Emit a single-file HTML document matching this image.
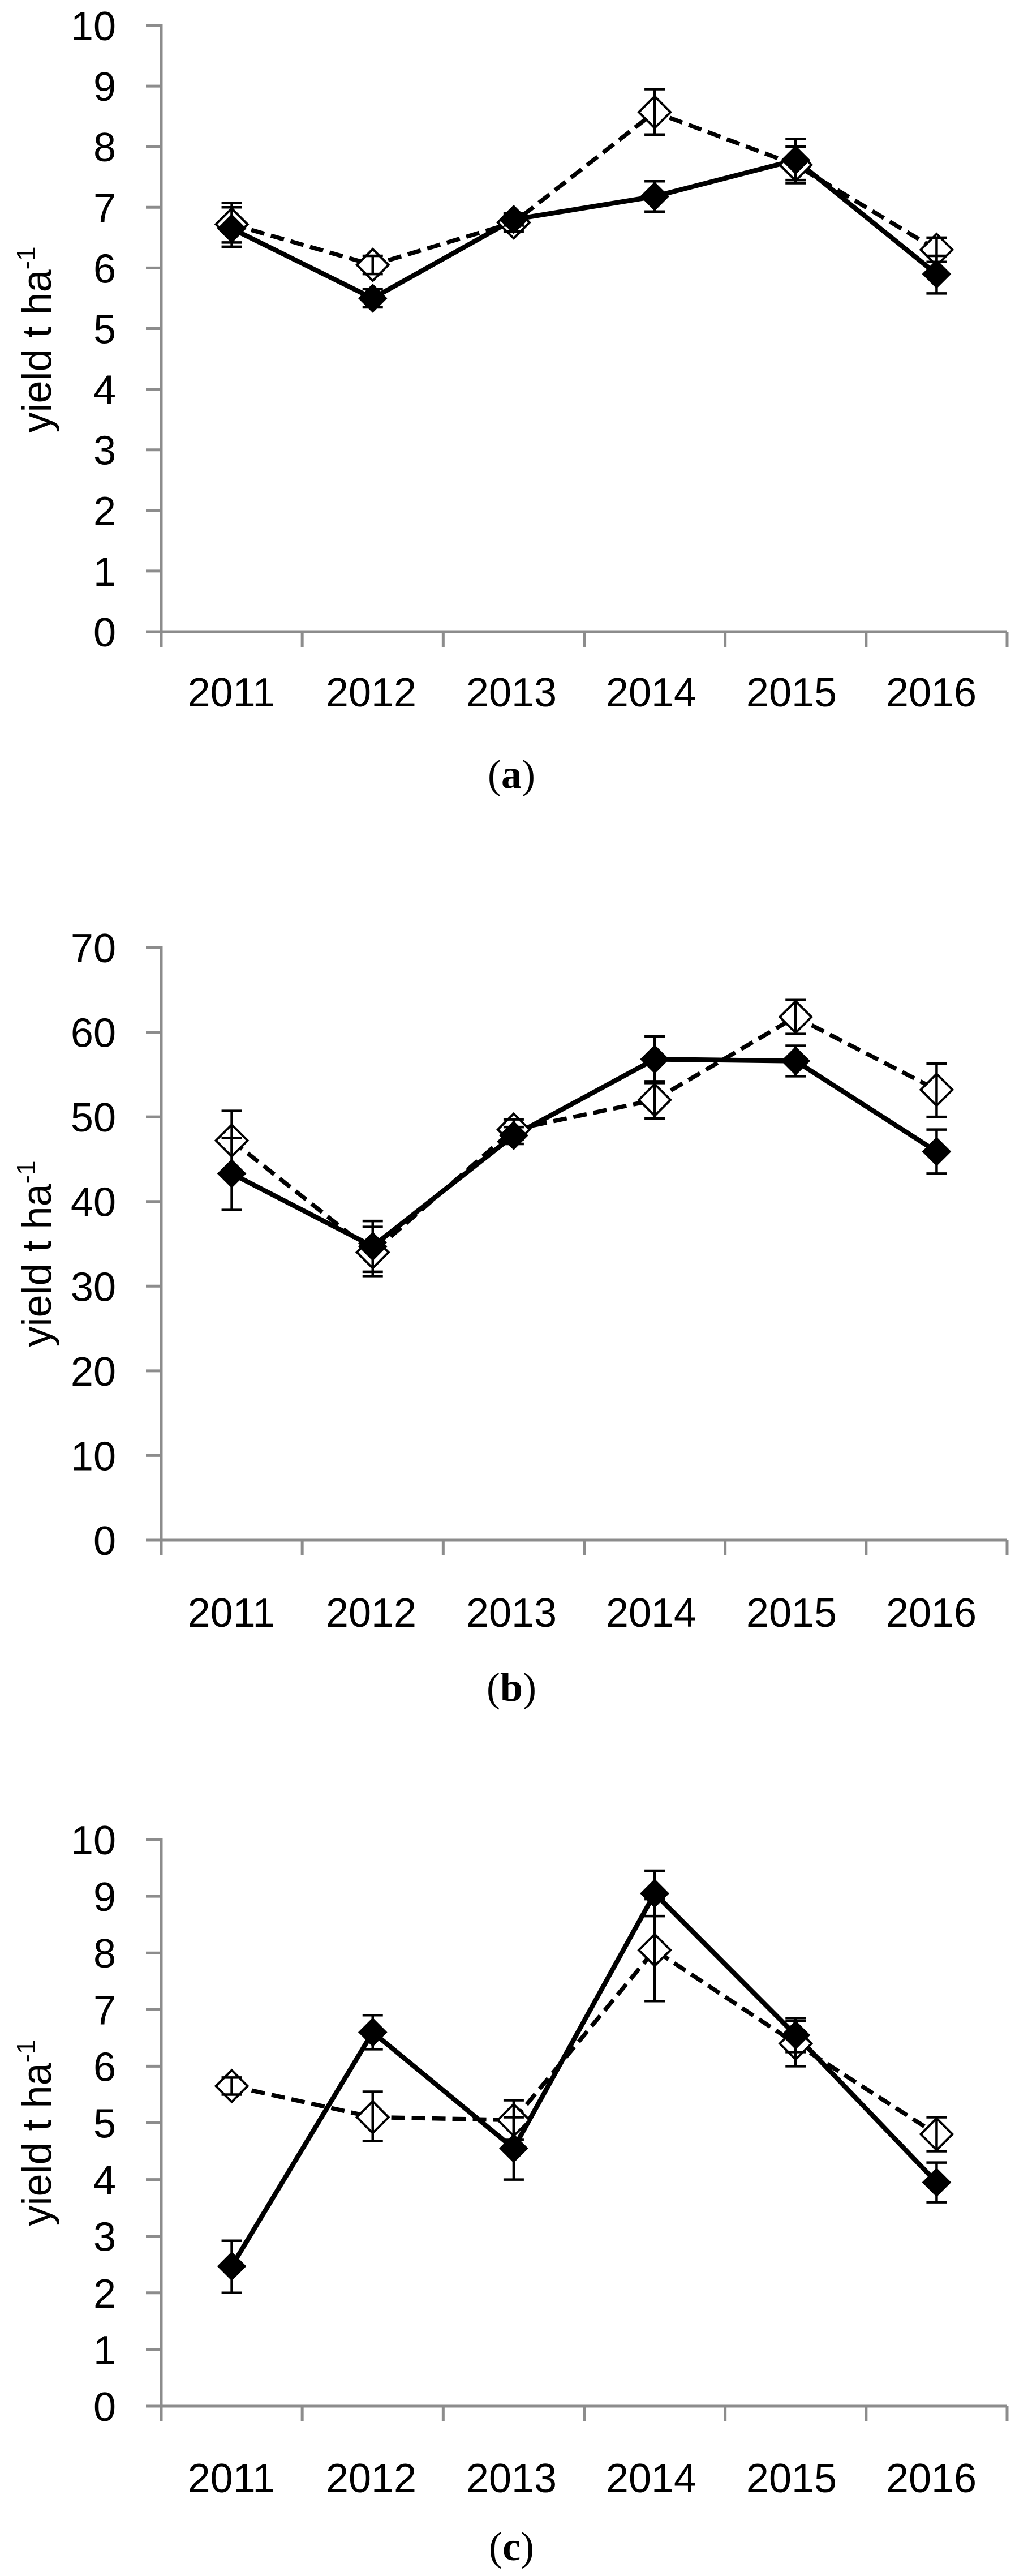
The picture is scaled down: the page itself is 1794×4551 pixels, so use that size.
<!DOCTYPE html>
<html><head><meta charset="utf-8">
<style>
html,body{margin:0;padding:0;background:#fff;}
svg{display:block;}
text{font-family:"Liberation Sans",sans-serif;fill:#000;}
</style></head>
<body>
<svg id="s" width="1794" height="4551" viewBox="0 0 1794 4551" xmlns="http://www.w3.org/2000/svg">
<g id="g"></g>
<g font-size="72" text-anchor="end" id="yl"></g>
<g font-size="72" text-anchor="middle">
<text x="409" y="1248">2011</text><text x="656" y="1248">2012</text><text x="904" y="1248">2013</text><text x="1151" y="1248">2014</text><text x="1399" y="1248">2015</text><text x="1646" y="1248">2016</text>
<text x="409" y="2874">2011</text><text x="656" y="2874">2012</text><text x="904" y="2874">2013</text><text x="1151" y="2874">2014</text><text x="1399" y="2874">2015</text><text x="1646" y="2874">2016</text>
<text x="409" y="4403">2011</text><text x="656" y="4403">2012</text><text x="904" y="4403">2013</text><text x="1151" y="4403">2014</text><text x="1399" y="4403">2015</text><text x="1646" y="4403">2016</text>
</g>
<g font-size="72">
<text transform="translate(90,600) rotate(-90)" text-anchor="middle">yield t ha<tspan font-size="46" dy="-28">-1</tspan></text>
<text transform="translate(90,2215) rotate(-90)" text-anchor="middle">yield t ha<tspan font-size="46" dy="-28">-1</tspan></text>
<text transform="translate(90,3768) rotate(-90)" text-anchor="middle">yield t ha<tspan font-size="46" dy="-28">-1</tspan></text>
</g>
<g font-size="72" text-anchor="middle">
<text x="904" y="1392" style="font-family:'Liberation Serif',serif">(<tspan font-weight="bold">a</tspan>)</text>
<text x="904" y="3005" style="font-family:'Liberation Serif',serif">(<tspan font-weight="bold">b</tspan>)</text>
<text x="904" y="4523" style="font-family:'Liberation Serif',serif">(<tspan font-weight="bold">c</tspan>)</text>
</g>
</svg>
<script>
(function(){
var NS="http://www.w3.org/2000/svg";
var g=document.getElementById('g'), yl=document.getElementById('yl');
function el(t,a,p){var e=document.createElementNS(NS,t);for(var k in a)e.setAttribute(k,a[k]);(p||g).appendChild(e);return e;}
var X0=285,X1=1780,CW=(X1-X0)/6;
function cx(i){return X0+CW*(i+0.5);}
var panels=[
 {top:45,zero:1116,max:10,step:1,
  s:[6.65,5.5,6.8,7.18,7.78,5.9],se:[[6.35,7.0],[5.35,5.65],[6.7,6.9],[6.93,7.43],[7.45,8.13],[5.58,6.2]],
  d:[6.72,6.05,6.75,8.57,7.7,6.3],de:[[6.42,7.07],[5.9,6.2],[6.6,6.9],[8.2,8.95],[7.4,8.0],[6.1,6.5]]},
 {top:1674,zero:2721,max:70,step:10,
  s:[43.3,34.7,47.8,56.8,56.6,45.9],se:[[39,47.5],[31.7,37.7],[46.8,48.8],[54,59.5],[54.8,58.4],[43.3,48.5]],
  d:[47.2,34.0,48.5,52.0,61.8,53.2],de:[[43.7,50.7],[31.2,37],[47.3,49.7],[49.8,54.2],[59.8,63.8],[50,56.3]]},
 {top:3250,zero:4251,max:10,step:1,
  s:[2.47,6.6,4.55,9.05,6.55,3.95],se:[[2.0,2.92],[6.3,6.9],[4.0,5.1],[8.65,9.45],[6.25,6.85],[3.6,4.3]],
  d:[5.65,5.1,5.05,8.05,6.4,4.8],de:[[5.5,5.8],[4.68,5.55],[4.7,5.4],[7.15,8.95],[6.0,6.8],[4.5,5.1]]}
];
panels.forEach(function(p){
 function Y(v){return p.zero-(p.zero-p.top)*v/p.max;}
 var ax="#8c8c8c";
 el('line',{x1:X0,y1:p.top-2,x2:X0,y2:p.zero+27,stroke:ax,'stroke-width':5});
 el('line',{x1:X0-27,y1:p.zero,x2:X1,y2:p.zero,stroke:ax,'stroke-width':5});
 for(var i=0;i<=6;i++){var x=X0+CW*i; el('line',{x1:x,y1:p.zero,x2:x,y2:p.zero+27,stroke:ax,'stroke-width':5});}
 for(var v=0;v<=p.max;v+=p.step){var y=Y(v);
  el('line',{x1:X0-27,y1:y,x2:X0,y2:y,stroke:ax,'stroke-width':5});
  var t=el('text',{x:205,y:y+26},yl); t.textContent=String(v);}
 function pts(a){return a.map(function(v,i){return cx(i)+','+Y(v);}).join(' ');}
 el('polyline',{points:pts(p.d),fill:'none',stroke:'#000','stroke-width':7.5,'stroke-dasharray':'24,12'});
 el('polyline',{points:pts(p.s),fill:'none',stroke:'#000','stroke-width':8.5,'stroke-linejoin':'round'});
 function eb(e){e.forEach(function(r,i){var x=cx(i),a=Y(r[0]),b=Y(r[1]);
  el('line',{x1:x,y1:a,x2:x,y2:b,stroke:'#000','stroke-width':4.5});
  el('line',{x1:x-18,y1:a,x2:x+18,y2:a,stroke:'#000','stroke-width':4.5});
  el('line',{x1:x-18,y1:b,x2:x+18,y2:b,stroke:'#000','stroke-width':4.5});});}
 function dia(a,fill,r){a.forEach(function(v,i){var x=cx(i),y=Y(v);
  el('polygon',{points:(x)+','+(y-r)+' '+(x+r)+','+y+' '+x+','+(y+r)+' '+(x-r)+','+y,fill:fill,stroke:'#000','stroke-width':4});});}
 dia(p.d,'#fff',28); eb(p.de);
 dia(p.s,'#000',23); eb(p.se);
});
})();
</script>
</body></html>
